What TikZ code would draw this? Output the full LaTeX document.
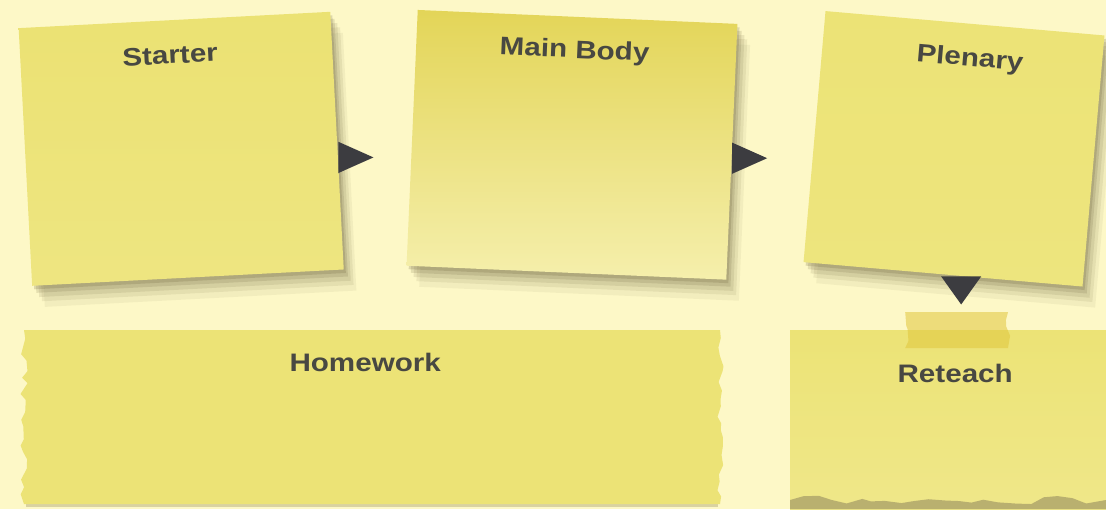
\documentclass[tikz,border=0pt]{standalone}
\usepackage{fontspec}
\newfontfamily\notefont{Liberation Sans}[FakeStretch=1.17]
\usetikzlibrary{shapes.geometric, shadows, positioning, calc, decorations.pathmorphing}
\definecolor{paperColor}{RGB}{253,248,199}
\definecolor{noteColor}{RGB}{236,227,118}
\definecolor{noteLight}{RGB}{245,239,172}
\definecolor{noteDark}{RGB}{227,213,88}
\definecolor{tapeColor}{RGB}{225,198,60}
\definecolor{tornColor}{RGB}{150,140,95}
\definecolor{shadowColor}{RGB}{110,100,60}
\definecolor{labelColor}{RGB}{72,72,66}
\definecolor{pointerColor}{RGB}{60,60,64}
\tikzstyle{note}=[rectangle, inner sep=0pt,
  drop shadow={shadow xshift=9pt, shadow yshift=-15pt, opacity=.07, fill=shadowColor},
  drop shadow={shadow xshift=7pt, shadow yshift=-11pt, opacity=.1, fill=shadowColor},
  drop shadow={shadow xshift=5pt, shadow yshift=-8pt, opacity=.13, fill=shadowColor},
  drop shadow={shadow xshift=3pt, shadow yshift=-5pt, opacity=.17, fill=shadowColor},
  drop shadow={shadow xshift=1.5pt, shadow yshift=-2.5pt, opacity=.22, fill=shadowColor}]
\tikzstyle{title}=[font=\notefont\bfseries\fontsize{18}{20}\selectfont, text=labelColor]
\tikzstyle{pointer}=[isosceles triangle, isosceles triangle apex angle=48,
  fill=pointerColor, inner sep=0pt, minimum width=0.78cm, minimum height=0.78cm, anchor=lower side]
\tikzstyle{torn}=[decoration={random steps, segment length=6pt, amplitude=2.5pt}]

\begin{document}
\begin{tikzpicture}[y=-1cm]
  \pgfmathsetseed{7}
  \useasboundingbox (0,0) rectangle (27.65,12.725);
  \fill[paperColor] (0,0) rectangle (27.65,12.725);
  % homework strip, torn at both ends
  \fill[tornColor, opacity=.35] (0.65,12.5) rectangle (17.95,12.68);
  \fill[noteColor] (0.6,8.25) -- (18.0,8.25) decorate[torn]{-- (18.0,12.6)}
    -- (0.6,12.6) decorate[torn]{-- (0.6,8.25)} -- cycle;
  % reteach strip, torn at the bottom
  \fill[top color=noteColor, bottom color=noteColor!65!noteLight] (19.75,8.25) rectangle (27.65,12.725);
  \fill[tornColor, opacity=.6] (19.75,12.725) -- (19.75,12.5)
    decorate[decoration={random steps, segment length=10pt, amplitude=3pt}]{-- (27.65,12.5)}
    -- (27.65,12.725) -- cycle;
  \fill[tapeColor, opacity=.55] (22.63,7.8) -- (25.2,7.8) decorate[torn]{-- (25.2,8.7)}
    -- (22.63,8.7) decorate[torn]{-- (22.63,7.8)} -- cycle;

  \node(starter) at (4.53,3.72) [note, rotate=3, minimum width=7.8cm, minimum height=6.45cm,
    top color=noteColor!90!noteDark, bottom color=noteColor!80!noteLight,
    label={[title, anchor=center, rotate=3, xshift=-0.2cm, label distance=-0.875cm]90:Starter}] {};
  \node(mainbody) at (14.3,3.62) [note, rotate=-2.5, minimum width=8cm, minimum height=6.4cm,
    top color=noteDark, bottom color=noteLight,
    label={[title, anchor=center, rotate=-2.5, label distance=-0.875cm]90:Main Body}] {};
  \node(plenary) at (23.85,3.72) [note, rotate=-5, minimum width=7cm, minimum height=6.3cm,
    top color=noteColor, bottom color=noteColor!85!noteLight,
    label={[title, anchor=center, rotate=-5, xshift=0.28cm, label distance=-0.9cm]90:Plenary}] {};

  \node(homework) at (9.13,9.05) [title] {Homework};
  \node(reteach) at (23.88,9.33) [title] {Reteach};

  \node(p1) [pointer] at ($(starter.east)!0.13!(starter.south east)$) {};
  \node(p2) [pointer] at ($(mainbody.east)!0.05!(mainbody.south east)$) {};
  \node(p3) [pointer, shape border rotate=-90, isosceles triangle apex angle=71,
    minimum width=0.7cm, minimum height=0.7cm]
    at ($(plenary.south)!0.13!(plenary.south east)$) {};
\end{tikzpicture}
\end{document}
